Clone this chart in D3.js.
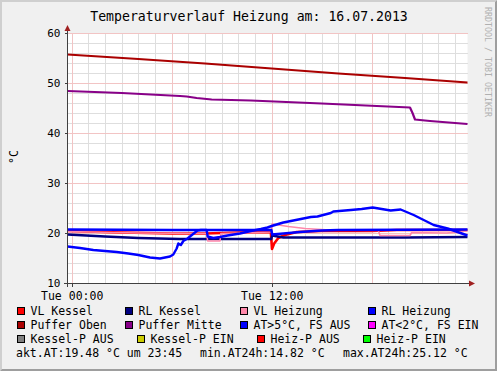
<!DOCTYPE html>
<meta charset="utf-8">
<style>
    body { margin: 0; background: #f0f0f0; }
    svg { display: block; font-family: "DejaVu Sans Mono", monospace; }
    .grid-minor { stroke: #dedede; stroke-width: 1; }
    .grid-major { stroke: #f2c4c4; stroke-width: 1; }
    .axis path, .axis line { stroke: #404040; shape-rendering: crispEdges; }
    .axis text { font-size: 11.5px; fill: #000; font-family: "DejaVu Sans Mono", monospace; }
    .series { fill: none; stroke-linejoin: round; }
</style>
<body>
<script src="https://d3js.org/d3.v7.min.js"></script>
<script>
    const title = "Temperaturverlauf Heizung am: 16.07.2013";
    const xTickHours = [0, 12];
    const xTickLabels = ["Tue 00:00", "Tue 12:00"];
    const yTicks = [10, 20, 30, 40, 50, 60];

    // [hour of day, °C]
    const vlKessel = [[-0.25,20.4],[3,20.1],[6,19.9],[8,19.9],[10,20.1],[11.95,20.2],[12.02,16.8],[12.15,17.9],[12.4,19.0],[12.8,19.6],[13.5,20.2],[15,20.4],[18,20.4],[19.5,20.6],[23.75,20.6]];
    const rlKessel = [[-0.25,19.7],[2,19.3],[4,19.0],[6.5,18.8],[11.98,18.8],[12.03,19.5],[12.7,19.1],[16,19.1],[20,19.1],[23.75,19.2]];
    const vlHeizung = [[-0.25,20.3],[4,20.0],[8.1,19.9],[8.16,18.4],[8.9,18.4],[8.95,19.9],[11.98,20.2],[12.03,21.8],[13,21.3],[14,20.9],[15.5,20.6],[18.4,20.5],[18.5,19.5],[20.3,19.5],[20.4,20.1],[22.5,20.0],[23.75,20.4]];
    const rlHeizung = [[-0.25,20.7],[6,20.6],[11.98,20.6],[12.03,19.7],[12.7,19.9],[13.7,20.2],[15,20.5],[16,20.6],[23.75,20.7]];
    const pufferOben = [[-0.25,55.7],[4,54.8],[8,53.9],[12,52.9],[16,51.9],[20,51.0],[23.75,50.1]];
    const pufferMitte = [[-0.25,48.4],[3,48.0],[6.5,47.4],[6.9,47.3],[7.5,47.0],[8.4,46.7],[10.75,46.5],[15,45.9],[20.3,45.1],[20.45,44.0],[20.6,42.7],[21.5,42.4],[23.75,41.8]];
    const aussen = [[-0.25,17.3],[0.5,17.0],[1.3,16.6],[2.0,16.4],[2.7,16.2],[3.4,15.9],[4.0,15.6],[4.7,15.1],[5.3,14.9],[5.6,15.1],[5.9,15.3],[6.1,15.7],[6.3,16.9],[6.4,17.9],[6.55,17.6],[6.7,18.4],[6.95,18.9],[7.25,19.7],[7.55,20.5],[7.75,20.6],[8.1,20.6],[8.16,19.3],[8.5,19.0],[8.9,19.2],[9.35,19.5],[10.1,19.9],[10.75,20.4],[11.35,20.8],[11.75,21.1],[12.0,21.4],[12.7,22.1],[13.15,22.4],[13.75,22.8],[14.35,23.2],[14.75,23.3],[15.55,24.0],[15.7,24.3],[16.75,24.6],[17.4,24.8],[18.06,25.1],[18.6,24.8],[19.14,24.5],[19.74,24.7],[20.52,23.6],[21.12,22.6],[21.72,21.6],[22.56,20.9],[23.75,19.5]];

    const legendNames = ["VL Kessel", "RL Kessel", "VL Heizung", "RL Heizung",
        "Puffer Oben", "Puffer Mitte", "AT>5°C, FS AUS", "AT<2°C, FS EIN",
        "Kessel-P AUS", "Kessel-P EIN", "Heiz-P AUS", "Heiz-P EIN"];
    const legendColors = ["#ff0000", "#000080", "#ff88aa", "#0000ff",
        "#aa0000", "#880088", "#0000ff", "#ff00ff",
        "#808080", "#cccc00", "#ff0000", "#00ff00"];
    const footerTexts = ["akt.AT:19.48 °C um 23:45", "min.AT24h:14.82 °C", "max.AT24h:25.12 °C"];

    const W = 497, H = 371;
    const svg = d3.select("body").append("svg").attr("width", W).attr("height", H);

    // frame shading
    svg.append("rect").attr("width", W).attr("height", H).attr("fill", "#f0f0f0");
    svg.append("path").attr("fill", "#cfcfcf")
        .attr("d", `M0,0H${W}L${W-2},2H2V${H-2}L0,${H}Z`);
    svg.append("path").attr("fill", "#9e9e9e")
        .attr("d", `M${W},0V${H}H0L2,${H-2}H${W-2}V2Z`);

    const x = d3.scaleLinear().domain([-0.25, 23.75]).range([67.5, 467.5]);
    const y = d3.scaleLinear().domain([10, 60]).range([283, 33]);

    svg.append("rect").attr("x", 67.5).attr("y", 33).attr("width", 400).attr("height", 250).attr("fill", "#fff");

    const grid = svg.append("g").attr("shape-rendering", "crispEdges");
    grid.selectAll(".vmin").data(d3.range(0, 24)).enter().append("line")
        .attr("class", d => d % 6 === 0 ? "grid-major" : "grid-minor")
        .attr("x1", d => Math.round(x(d)) + 0.5).attr("x2", d => Math.round(x(d)) + 0.5)
        .attr("y1", 33).attr("y2", 283);
    grid.selectAll(".hmin").data(d3.range(12, 61, 2)).enter().append("line")
        .attr("class", d => d % 10 === 0 ? "grid-major" : "grid-minor")
        .attr("x1", 67.5).attr("x2", 467.5)
        .attr("y1", d => Math.round(y(d)) + 0.5).attr("y2", d => Math.round(y(d)) + 0.5);
    // majors on top of minors
    grid.selectAll(".grid-major").raise();

    const line = d3.line().x(d => x(d[0])).y(d => y(d[1]));
    const series = [
        [vlKessel, legendColors[0], 2.6],
        [rlKessel, legendColors[1], 2.4],
        [vlHeizung, legendColors[2], 1.6],
        [rlHeizung, legendColors[3], 2.6],
        [pufferOben, legendColors[4], 2.2],
        [pufferMitte, legendColors[5], 2.2],
        [aussen, legendColors[6], 2.4]
    ];
    svg.selectAll(".series").data(series).enter().append("path")
        .attr("class", "series")
        .attr("d", d => line(d[0]))
        .attr("stroke", d => d[1])
        .attr("stroke-width", d => d[2]);

    // axes
    const yAxis = svg.append("g").attr("class", "axis")
        .attr("transform", "translate(67.5,0)")
        .call(d3.axisLeft(y).tickValues(yTicks).tickSize(3).tickPadding(4));
    yAxis.select(".domain").remove();
    yAxis.selectAll("text").style("font-size", "11px");
    const xAxis = svg.append("g").attr("class", "axis")
        .attr("transform", "translate(0,284.5)")
        .call(d3.axisBottom(x).tickValues(xTickHours).tickSize(3).tickPadding(4)
            .tickFormat((d, i) => xTickLabels[i]));
    xAxis.select(".domain").remove();
    xAxis.selectAll("line").attr("y1", -1).attr("y2", 2);

    svg.append("line").attr("x1", 67.5).attr("x2", 67.5).attr("y1", 287).attr("y2", 30)
        .attr("stroke", "#404040").attr("shape-rendering", "crispEdges");
    svg.append("line").attr("x1", 64).attr("x2", 470).attr("y1", 283.5).attr("y2", 283.5)
        .attr("stroke", "#404040").attr("shape-rendering", "crispEdges");
    svg.append("path").attr("fill", "#a02020").attr("d", "M64.5,31L67.5,25L70.5,31Z");
    svg.append("path").attr("fill", "#a02020").attr("d", "M469,280.5L475,283.5L469,286.5Z");

    // titles
    svg.append("text").attr("x", 249).attr("y", 21).attr("text-anchor", "middle")
        .attr("font-size", "13.2px").text(title);
    svg.append("text").attr("transform", "translate(18,157) rotate(-90)")
        .attr("text-anchor", "middle").attr("font-size", "11.5px").text("°C");
    svg.append("text").attr("transform", "translate(485,7) rotate(90)")
        .attr("font-size", "8.3px").attr("fill", "#b0b0b0").text("RRDTOOL / TOBI OETIKER");

    // legend
    const legendPos = [[17,311],[125,311],[240,311],[368,311],
        [17,325],[125,325],[240,325],[368,325],
        [17,339],[137,339],[257,339],[363,339]];
    const leg = svg.selectAll(".legend").data(legendNames).enter().append("g")
        .attr("class", "legend")
        .attr("transform", (d, i) => `translate(${legendPos[i][0]},${legendPos[i][1]})`);
    leg.append("rect").attr("x", 0.5).attr("y", -3.5).attr("width", 7).attr("height", 7)
        .attr("fill", (d, i) => legendColors[i]).attr("stroke", "#000").attr("stroke-width", 1);
    leg.append("text").attr("x", 13.5).attr("y", 4).attr("font-size", "11.5px").text(d => d);

    const footerX = [16, 200, 343];
    svg.selectAll(".footer").data(footerTexts).enter().append("text")
        .attr("class", "footer")
        .attr("x", (d, i) => footerX[i]).attr("y", 357)
        .attr("font-size", "11.5px").text(d => d);
</script>
</body>
</html>
